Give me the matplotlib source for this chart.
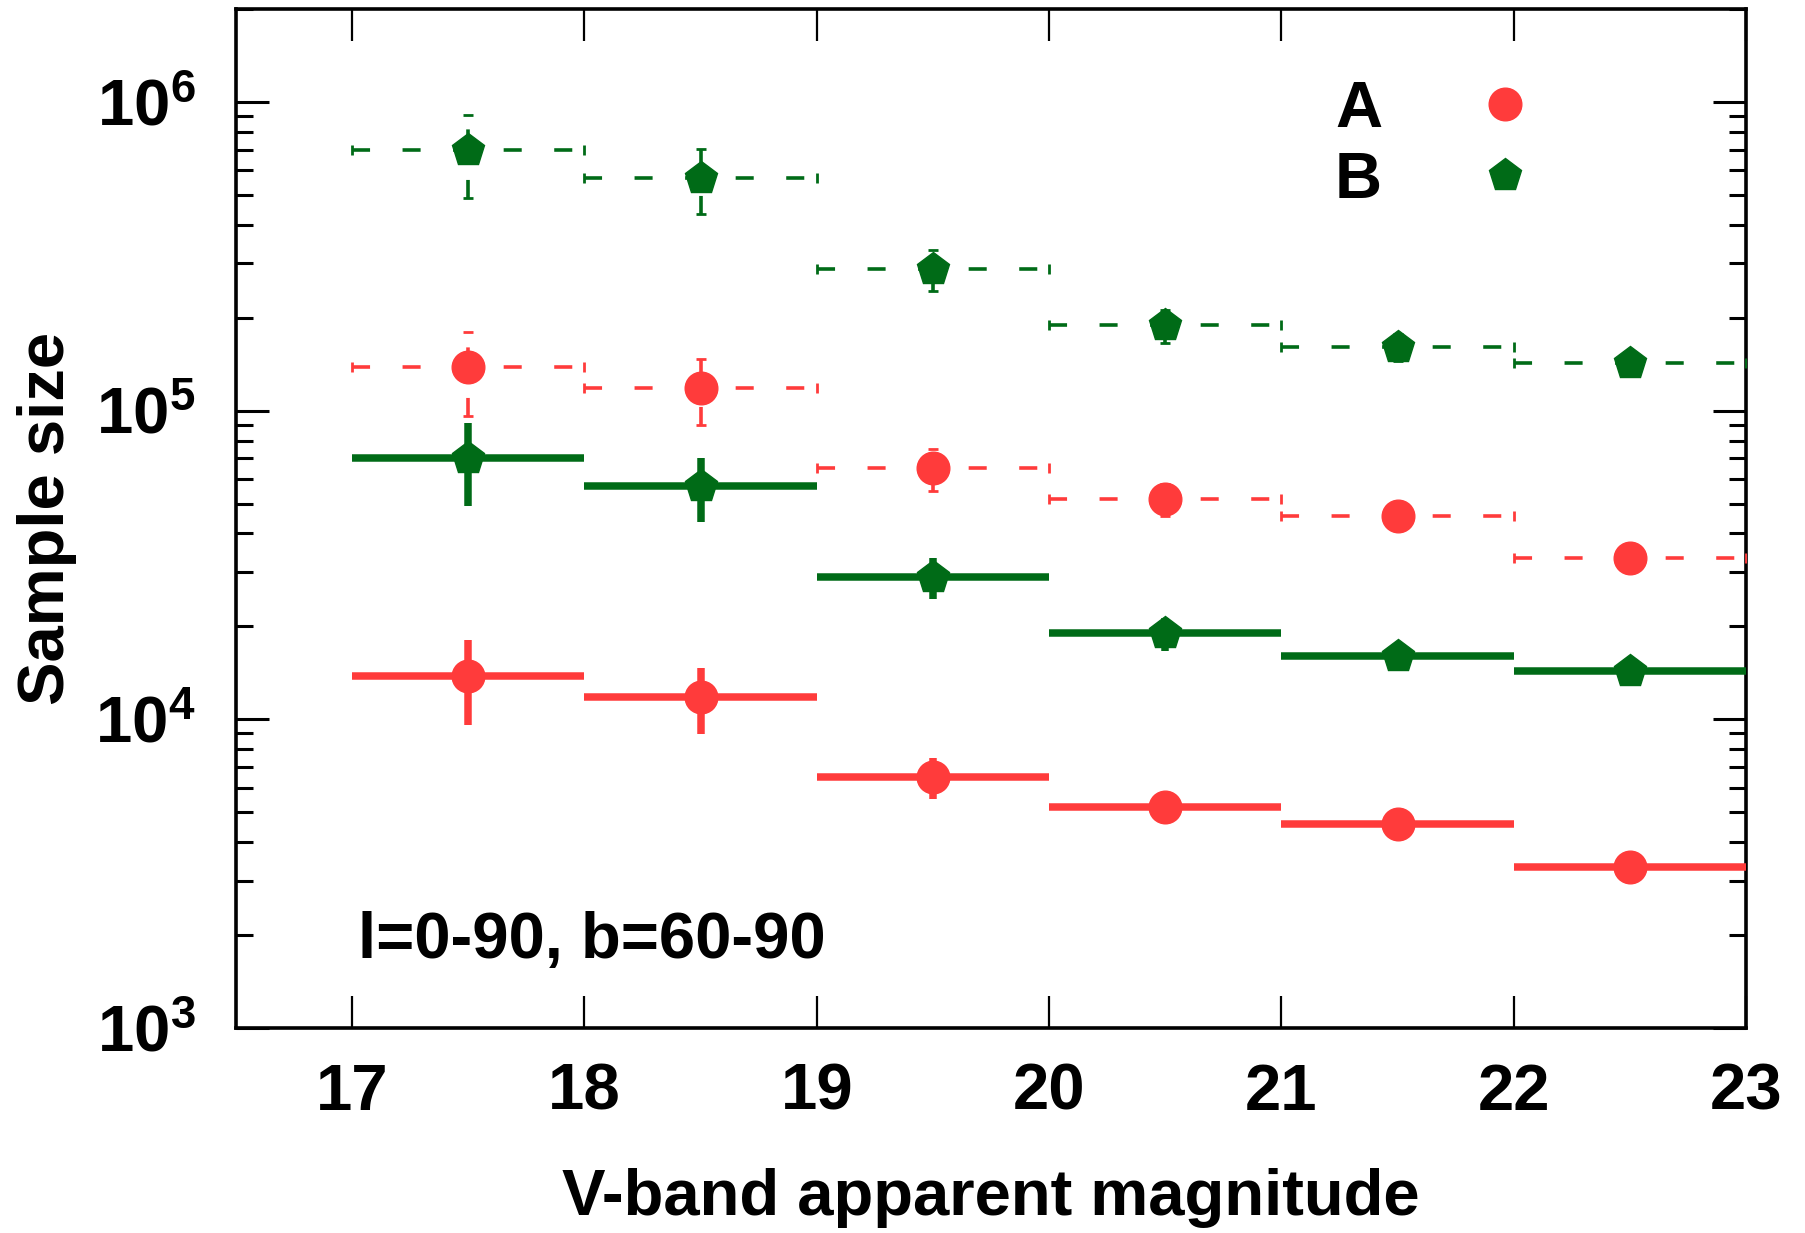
import numpy as np
import matplotlib
import matplotlib.pyplot as plt
from matplotlib.lines import Line2D

matplotlib.use("Agg")

plt.rcParams['font.family'] = ['Liberation Sans', 'DejaVu Sans']
plt.rcParams['font.weight'] = 'bold'
plt.rcParams['mathtext.fontset'] = 'custom'
plt.rcParams['mathtext.bf'] = 'Liberation Sans:bold'
plt.rcParams['mathtext.rm'] = 'Liberation Sans:bold'

# magnitude bins
bin_centers = [17.5, 18.5, 19.5, 20.5, 21.5, 22.5]
bin_halfwidth = [0.5, 0.5, 0.5, 0.5, 0.5, 0.5]

# sample sizes (dashed = full sample, solid = sub sample)
a_full = [1.38e5, 1.18e5, 6.5e4, 5.18e4, 4.56e4, 3.32e4]
a_full_err = [4.2e4, 2.85e4, 1.0e4, 6.2e3, 4.6e3, 2.7e3]
b_full = [7.0e5, 5.68e5, 2.88e5, 1.89e5, 1.61e5, 1.43e5]
b_full_err = [2.1e5, 1.35e5, 4.4e4, 2.3e4, 1.6e4, 1.1e4]

a_sub = [1.38e4, 1.18e4, 6.5e3, 5.2e3, 4.57e3, 3.32e3]
a_sub_err = [4.2e3, 2.85e3, 1.0e3, 6.2e2, 4.6e2, 2.7e2]
b_sub = [7.0e4, 5.69e4, 2.89e4, 1.90e4, 1.60e4, 1.43e4]
b_sub_err = [2.1e4, 1.35e4, 4.4e3, 2.3e3, 1.6e3, 1.1e3]

xticks = [17, 18, 19, 20, 21, 22, 23]
yticks = [1e3, 1e4, 1e5, 1e6]
ytick_labels = [r'$\mathbf{10^{3}}$', r'$\mathbf{10^{4}}$', r'$\mathbf{10^{5}}$', r'$\mathbf{10^{6}}$']

red = '#FF3B3B'
green = '#006B17'

fig = plt.figure(figsize=(18.05, 12.33), dpi=100)
ax = fig.add_axes([0.1307, 0.1663, 0.8366, 0.8264])
ax.set_yscale('log')


def draw_dashed(y, yerr, color, marker, ms):
    eb = ax.errorbar(bin_centers, y, xerr=bin_halfwidth, yerr=yerr, fmt=marker, color=color,
                     ms=ms, elinewidth=2.6, capsize=3.5, capthick=2, zorder=3)
    for col in eb[2]:
        col.set_linestyle((0, (5, 9)))
    return eb


def draw_solid(y, yerr, color, marker, ms):
    return ax.errorbar(bin_centers, y, xerr=bin_halfwidth, yerr=yerr, fmt=marker, color=color,
                       ms=ms, elinewidth=5.4, capsize=0, zorder=4)


draw_dashed(b_full, b_full_err, green, 'p', 24.5)
draw_dashed(a_full, a_full_err, red, 'o', 23.5)
draw_solid(b_sub, b_sub_err, green, 'p', 24.5)
draw_solid(a_sub, a_sub_err, red, 'o', 23.5)

ax.set_xlim(16.5, 23)
ax.set_ylim(1e3, 2e6)
ax.set_xticks(xticks)
ax.set_xticklabels([str(t) for t in xticks])
ax.set_yticks(yticks)
ax.set_yticklabels(ytick_labels)

for s in ax.spines.values():
    s.set_linewidth(2.6)

ax.tick_params(which='both', direction='in', top=True, right=True)
ax.tick_params(axis='x', which='major', length=23, width=1.6, pad=25, labelsize=47)
ax.tick_params(axis='y', which='major', length=24, width=2.2, pad=29, labelsize=47)
ax.tick_params(axis='y', which='minor', length=12, width=2.2)
ax.tick_params(axis='x', which='minor', bottom=False, top=False)

ax.set_xlabel('V-band apparent magnitude', fontsize=47, fontweight='bold')
ax.set_ylabel('Sample size', fontsize=47, fontweight='bold')
ax.xaxis.set_label_coords(0.5, -0.137)
ax.yaxis.set_label_coords(-0.1053, 0.5)

ax.text(0.0808, 0.0687, 'l=0-90, b=60-90', transform=ax.transAxes, fontsize=47,
        fontweight='bold', ha='left', va='baseline')

handles = [Line2D([], [], ls='none', marker='o', ms=23.5, color=red),
           Line2D([], [], ls='none', marker='p', ms=24.5, color=green)]
ax.legend(handles, ['A', 'B'], loc='upper left', bbox_to_anchor=(0.7278, 0.930),
          frameon=False, markerfirst=False, borderpad=0, borderaxespad=0,
          handlelength=1.0, handletextpad=1.39, labelspacing=0.16,
          prop={'size': 47, 'weight': 'bold'})

fig.savefig('out.png', dpi=100)
